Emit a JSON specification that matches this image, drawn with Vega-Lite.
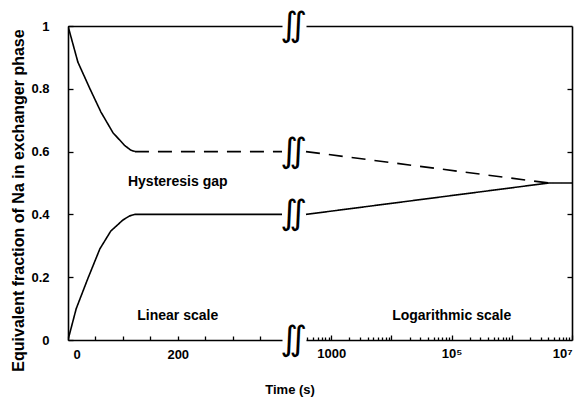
{
  "$schema": "https://vega.github.io/schema/vega-lite/v6.json",
  "padding": {"left": 10, "top": 9, "right": 5, "bottom": 5},
  "config": {
    "font": "Liberation Sans",
    "view": {"stroke": null},
    "axis": {
      "labelFont": "Liberation Sans", "labelFontWeight": "bold", "labelFontSize": 13, "labelColor": "black",
      "titleFont": "Liberation Sans", "titleFontWeight": "bold", "titleColor": "black", "titleFontSize": 16,
      "domainColor": "black", "domainWidth": 1.6, "tickColor": "black", "tickWidth": 1.3, "grid": false
    }
  },
  "title": {"text": "Time (s)", "orient": "bottom", "anchor": "middle", "fontSize": 13, "fontWeight": "bold", "font": "Liberation Sans", "color": "black", "offset": 13, "dx": -3},
  "spacing": 24,
  "bounds": "flush",
  "hconcat": [
    {
      "width": 214, "height": 314,
      "resolve": {"axis": {"x": "independent", "y": "independent"}},
      "layer": [
        {
          "data": {"values": [
            {"t": 0, "f": 1.0, "series": "upper"},
            {"t": 18, "f": 0.885, "series": "upper"},
            {"t": 40, "f": 0.8, "series": "upper"},
            {"t": 60, "f": 0.726, "series": "upper"},
            {"t": 82, "f": 0.66, "series": "upper"},
            {"t": 103, "f": 0.62, "series": "upper"},
            {"t": 114, "f": 0.605, "series": "upper"},
            {"t": 122, "f": 0.6, "series": "upper"},
            {"t": 122, "f": 0.6, "series": "upper gap"},
            {"t": 390, "f": 0.6, "series": "upper gap"},
            {"t": 0, "f": 0.0, "series": "lower"},
            {"t": 15, "f": 0.1, "series": "lower"},
            {"t": 36, "f": 0.195, "series": "lower"},
            {"t": 58, "f": 0.29, "series": "lower"},
            {"t": 78, "f": 0.347, "series": "lower"},
            {"t": 100, "f": 0.382, "series": "lower"},
            {"t": 112, "f": 0.395, "series": "lower"},
            {"t": 122, "f": 0.4, "series": "lower"},
            {"t": 390, "f": 0.4, "series": "lower"}
          ]},
          "mark": {"type": "line", "color": "black", "strokeWidth": 1.6, "clip": true},
          "encoding": {
            "x": {"field": "t", "type": "quantitative", "scale": {"domain": [0, 390], "nice": false, "zero": false},
              "axis": {"orient": "bottom", "title": null, "values": [0, 50, 100, 150, 200, 250, 300, 350],
                "labelExpr": "datum.value == 0 || datum.value == 200 ? datum.label : ''", "tickSize": -4, "labelPadding": 12,
                "labelOffset": {"condition": {"test": "datum.value == 0", "value": 5}, "value": 0}}},
            "y": {"field": "f", "type": "quantitative", "scale": {"domain": [0, 1], "nice": false},
              "axis": {"orient": "left", "title": "Equivalent fraction of Na in exchanger phase", "values": [0, 0.2, 0.4, 0.6, 0.8, 1],
                "format": "~g", "tickSize": -5, "labelPadding": 24, "titlePadding": 4, "titleY": 174}},
            "detail": {"field": "series"},
            "strokeDash": {"field": "series", "type": "nominal", "legend": null,
              "scale": {"domain": ["upper", "upper gap", "lower"], "range": [[1, 0], [14, 9], [1, 0]]}}
          }
        },
        {
          "data": {"values": [
            {"t": 200, "f": 0.503, "label": "Hysteresis gap"},
            {"t": 200, "f": 0.076, "label": "Linear scale"}
          ]},
          "mark": {"type": "text", "fontSize": 14, "fontWeight": "bold", "font": "Liberation Sans", "color": "black"},
          "encoding": {
            "x": {"field": "t", "type": "quantitative", "axis": {"orient": "top", "title": null, "ticks": false, "labels": false, "domain": true}},
            "y": {"field": "f", "type": "quantitative", "axis": null},
            "text": {"field": "label"}
          }
        },
        {
          "data": {"values": [
            {"t": 390, "f": 1}, {"t": 390, "f": 0.6}, {"t": 390, "f": 0.4}, {"t": 390, "f": 0}
          ]},
          "mark": {"type": "text", "text": "∬", "fontSize": 34, "dx": 12, "font": "DejaVu Sans", "color": "black"},
          "encoding": {
            "x": {"field": "t", "type": "quantitative", "axis": null},
            "y": {"field": "f", "type": "quantitative", "axis": null}
          }
        }
      ]
    },
    {
      "width": 266, "height": 314,
      "resolve": {"axis": {"x": "independent", "y": "independent"}},
      "layer": [
        {
          "data": {"values": [
            {"t": 380, "f": 0.6, "series": "upper gap"},
            {"t": 4100000, "f": 0.5, "series": "upper gap"},
            {"t": 380, "f": 0.4, "series": "lower"},
            {"t": 4100000, "f": 0.5, "series": "lower"},
            {"t": 10000000, "f": 0.5, "series": "lower"}
          ]},
          "mark": {"type": "line", "color": "black", "strokeWidth": 1.6},
          "encoding": {
            "x": {"field": "t", "type": "quantitative", "scale": {"type": "log", "domain": [380, 10000000], "nice": false},
              "axis": {"orient": "bottom", "title": null,
                "values": [400, 500, 600, 700, 800, 900, 1000, 2000, 3000, 4000, 5000, 6000, 7000, 8000, 9000, 10000, 20000, 30000, 40000, 50000, 60000, 70000, 80000, 90000, 100000, 200000, 300000, 400000, 500000, 600000, 700000, 800000, 900000, 1000000, 2000000, 3000000, 4000000, 5000000, 6000000, 7000000, 8000000, 9000000, 10000000],
                "labelExpr": "datum.value == 1000 ? '1000' : datum.value == 100000 ? '10⁵' : datum.value == 10000000 ? '10⁷' : ''",
                "tickSize": {"condition": {"test": "indexof([1000, 10000, 100000, 1000000, 10000000], datum.value) >= 0", "value": -5}, "value": -3},
                "labelPadding": 12, "labelOverlap": false}},
            "y": {"field": "f", "type": "quantitative", "scale": {"domain": [0, 1], "nice": false},
              "axis": {"orient": "right", "title": null, "values": [0.2, 0.4, 0.6, 0.8], "labels": false, "tickSize": -5}},
            "detail": {"field": "series"},
            "strokeDash": {"field": "series", "type": "nominal", "legend": null,
              "scale": {"domain": ["upper gap", "lower"], "range": [[14, 9], [1, 0]]}}
          }
        },
        {
          "data": {"values": [
            {"t": 100000, "f": 0.076, "label": "Logarithmic scale"}
          ]},
          "mark": {"type": "text", "fontSize": 14, "fontWeight": "bold", "font": "Liberation Sans", "color": "black"},
          "encoding": {
            "x": {"field": "t", "type": "quantitative", "axis": {"orient": "top", "title": null, "ticks": false, "labels": false, "domain": true}},
            "y": {"field": "f", "type": "quantitative", "axis": null},
            "text": {"field": "label"}
          }
        }
      ]
    }
  ]
}
